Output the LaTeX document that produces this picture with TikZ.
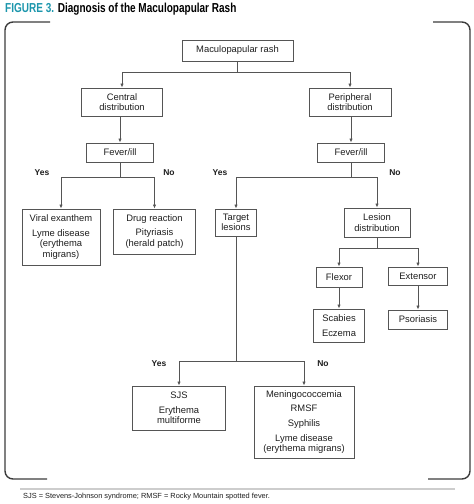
\documentclass[tikz,border=0pt]{standalone}
\usepackage{fontspec}
\setmainfont{Liberation Sans}
\usetikzlibrary{arrows.meta}
\definecolor{teal3}{RGB}{28,150,172}
\definecolor{framegray}{RGB}{60,60,60}
\definecolor{boxgray}{RGB}{85,85,85}
\definecolor{txt}{RGB}{30,30,30}
\definecolor{sepgray}{RGB}{205,205,205}
\begin{document}
\begin{tikzpicture}[x=1pt,y=-1pt,
  box/.style={draw=boxgray,line width=0.9pt,inner sep=0pt,align=center,text=txt,
    font=\fontsize{9.4}{10.6}\selectfont},
  conn/.style={draw=boxgray,line width=0.9pt},
  arr/.style={conn,-{Latex[length=4pt,width=3.4pt]}},
  yn/.style={font=\bfseries\fontsize{8.5}{9}\selectfont,text=txt,inner sep=0pt},
  frame/.style={draw=framegray,line width=1.4pt,rounded corners=8pt}]
\useasboundingbox (0,0) rectangle (474,504);
% title
\node[anchor=west,inner sep=0pt] (title) at (5,9) {\scalebox{0.77}[1]{\fontsize{13}{15}\selectfont\bfseries\textcolor{teal3}{FIGURE 3.} \textcolor{black}{Diagnosis of the Maculopapular Rash}}};
% frame
\draw[frame] (50,22) -- (5,22) -- (5,479) -- (47,479);
\draw[frame] (433,22) -- (470,22) -- (470,479) -- (428,479);
% separator and footnote
\draw[sepgray,line width=1.6pt] (20,489) -- (455,489);
\node[anchor=west,inner sep=0pt,text=txt,font=\fontsize{7.4}{8}\selectfont] (foot) at (23,497) {SJS = Stevens-Johnson syndrome; RMSF = Rocky Mountain spotted fever.};
% nodes
\node[box,minimum width=111,minimum height=21] (rash) at (237.5,50.5) {Maculopapular rash};
\node[box,minimum width=81,minimum height=28] (central) at (122,102) {Central\\distribution};
\node[box,minimum width=82,minimum height=28] (peripheral) at (350,102) {Peripheral\\distribution};
\node[box,minimum width=67,minimum height=19] (fever1) at (120,152.5) {Fever/ill};
\node[box,minimum width=67,minimum height=19] (fever2) at (351,152.5) {Fever/ill};
\node[box,minimum width=78,minimum height=56] (viral) at (61,237) {Viral exanthem\\[4pt]Lyme disease\\(erythema\\migrans)};
\node[box,minimum width=82,minimum height=45] (drug) at (154.5,231.5) {Drug reaction\\[4pt]Pityriasis\\(herald patch)};
\node[box,minimum width=41,minimum height=27] (target) at (236,222.5) {Target\\lesions};
\node[box,minimum width=66,minimum height=29] (lesion) at (377,222.5) {Lesion\\distribution};
\node[box,minimum width=46,minimum height=20] (flexor) at (339,277) {Flexor};
\node[box,minimum width=59,minimum height=18] (extensor) at (418,276) {Extensor};
\node[box,minimum width=51,minimum height=33] (scabies) at (339,325.5) {Scabies\\[4pt]Eczema};
\node[box,minimum width=59,minimum height=19] (psoriasis) at (418,319.5) {Psoriasis};
\node[box,minimum width=93,minimum height=44] (sjs) at (179,408) {SJS\\[4pt]Erythema\\multiforme};
\node[box,minimum width=100,minimum height=72] (mening) at (304,422) {Meningococcemia\\[4pt]RMSF\\[4pt]Syphilis\\[4pt]Lyme disease\\(erythema migrans)};
% junctions
\coordinate (j1) at (237.5,72);
\coordinate (j2) at (120,177);
\coordinate (j3) at (351,177);
\coordinate (j4) at (377,248);
\coordinate (j5) at (236,361);
% connectors
\draw[conn] (rash.south) -- (j1);
\draw[arr] (j1) -| (central.north);
\draw[arr] (j1) -| (peripheral.north);
\draw[arr] (central.south -| fever1.north) -- (fever1.north);
\draw[arr] (peripheral.south -| fever2.north) -- (fever2.north);
\draw[conn] (fever1.south) -- (j2);
\draw[arr] (j2) -| (viral.north);
\draw[arr] (j2) -| (drug.north);
\draw[conn] (fever2.south) -- (j3);
\draw[arr] (j3) -| (target.north);
\draw[arr] (j3) -| (lesion.north);
\draw[conn] (lesion.south) -- (j4);
\draw[arr] (j4) -| (flexor.north);
\draw[arr] (j4) -| (extensor.north);
\draw[arr] (flexor.south) -- (scabies.north);
\draw[arr] (extensor.south) -- (psoriasis.north);
\draw[conn] (target.south) -- (j5);
\draw[arr] (j5) -| (sjs.north);
\draw[arr] (j5) -| (mening.north);
% labels
\node[yn] (y1) at (42,173) {Yes};
\node[yn] (n1) at (169,173) {No};
\node[yn] (y2) at (220,173) {Yes};
\node[yn] (n2) at (395,173) {No};
\node[yn] (y3) at (159,364) {Yes};
\node[yn] (n3) at (323,364) {No};
\end{tikzpicture}
\end{document}
